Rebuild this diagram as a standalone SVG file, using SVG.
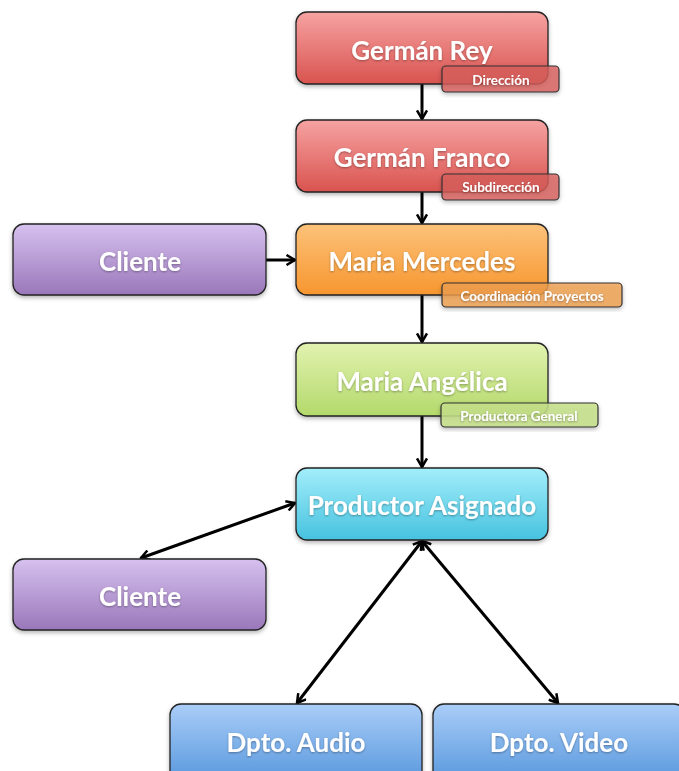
<svg xmlns="http://www.w3.org/2000/svg" width="679" height="771" viewBox="0 0 679 771">
<defs>
<linearGradient id="gRed" x1="0" y1="0" x2="0" y2="1"><stop offset="0" stop-color="#f6a3a2"/><stop offset="1" stop-color="#d9534f"/></linearGradient>
<linearGradient id="gOrange" x1="0" y1="0" x2="0" y2="1"><stop offset="0" stop-color="#fcc27a"/><stop offset="1" stop-color="#f7962f"/></linearGradient>
<linearGradient id="gGreen" x1="0" y1="0" x2="0" y2="1"><stop offset="0" stop-color="#e2f2b0"/><stop offset="1" stop-color="#b3d96b"/></linearGradient>
<linearGradient id="gCyan" x1="0" y1="0" x2="0" y2="1"><stop offset="0" stop-color="#a3eefb"/><stop offset="1" stop-color="#46c2df"/></linearGradient>
<linearGradient id="gPurple" x1="0" y1="0" x2="0" y2="1"><stop offset="0" stop-color="#d6c1ef"/><stop offset="1" stop-color="#9a77ba"/></linearGradient>
<linearGradient id="gBlue" x1="0" y1="0" x2="0" y2="1"><stop offset="0" stop-color="#aacdf8"/><stop offset="1" stop-color="#5596dc"/></linearGradient>
<filter id="sh" x="-10%" y="-10%" width="120%" height="130%"><feDropShadow dx="0" dy="2" stdDeviation="2" flood-color="#000" flood-opacity="0.3"/></filter>
<filter id="ts" x="-5%" y="-20%" width="110%" height="150%"><feDropShadow dx="0" dy="1" stdDeviation="0.8" flood-color="#000" flood-opacity="0.35"/></filter>
<marker id="ah" viewBox="0 0 12 12" refX="10.5" refY="6" markerWidth="12" markerHeight="12" markerUnits="userSpaceOnUse" orient="auto-start-reverse">
<path d="M2,1 L10.5,6 L2,11" fill="none" stroke="#000" stroke-width="2.5"/>
</marker>
</defs>
<style>
.box{stroke:#222;stroke-width:1.3;filter:url(#sh)}
.tag{stroke:#333;stroke-width:1.2;filter:url(#sh)}
.t{font-family:Lato,"Open Sans","Liberation Sans",sans-serif;font-weight:bold;fill:#fff;text-anchor:middle;filter:url(#ts)}
.big{font-size:26px}
.small{font-size:13.5px}
.c{stroke:#000;stroke-width:3;fill:none}
</style>
<g id="connectors">
<line class="c" x1="422" y1="84" x2="422" y2="119" marker-end="url(#ah)"/>
<line class="c" x1="422" y1="192" x2="422" y2="223" marker-end="url(#ah)"/>
<line class="c" x1="266" y1="260" x2="295" y2="260" marker-end="url(#ah)"/>
<line class="c" x1="422" y1="295" x2="422" y2="342" marker-end="url(#ah)"/>
<line class="c" x1="422" y1="416" x2="422" y2="467" marker-end="url(#ah)"/>
<line class="c" x1="141" y1="558" x2="295" y2="503" marker-start="url(#ah)" marker-end="url(#ah)"/>
<line class="c" x1="422" y1="541" x2="297" y2="703" marker-start="url(#ah)" marker-end="url(#ah)"/>
<line class="c" x1="422" y1="541" x2="558" y2="703" marker-start="url(#ah)" marker-end="url(#ah)"/>
</g>
<g id="n-rey">
<rect class="box" x="296" y="12" width="252" height="72" rx="11" fill="url(#gRed)"/>
<text class="t big" x="422" y="60">Germán Rey</text>
<rect class="tag" x="442" y="66" width="117" height="26" rx="4" fill="#d9605c" fill-opacity="0.8"/>
<text class="t small" x="501" y="85">Dirección</text>
</g>
<g id="n-franco">
<rect class="box" x="296" y="120" width="252" height="72" rx="11" fill="url(#gRed)"/>
<text class="t big" x="422" y="167">Germán Franco</text>
<rect class="tag" x="442" y="174" width="117" height="26" rx="4" fill="#d9605c" fill-opacity="0.8"/>
<text class="t small" x="501" y="192">Subdirección</text>
</g>
<g id="n-mercedes">
<rect class="box" x="296" y="224" width="252" height="71" rx="11" fill="url(#gOrange)"/>
<text class="t big" x="422" y="271">Maria Mercedes</text>
<rect class="tag" x="442" y="283" width="180" height="24" rx="4" fill="#f0a050" fill-opacity="0.8"/>
<text class="t small" x="532" y="301">Coordinación Proyectos</text>
</g>
<g id="n-cliente1">
<rect class="box" x="13" y="224" width="253" height="71" rx="11" fill="url(#gPurple)"/>
<text class="t big" x="140" y="271">Cliente</text>
</g>
<g id="n-angelica">
<rect class="box" x="296" y="343" width="252" height="73" rx="11" fill="url(#gGreen)"/>
<text class="t big" x="422" y="391">Maria Angélica</text>
<rect class="tag" x="441" y="403" width="157" height="24" rx="4" fill="#c5e08a" fill-opacity="0.85"/>
<text class="t small" x="519" y="421">Productora General</text>
</g>
<g id="n-productor">
<rect class="box" x="296" y="468" width="252" height="72" rx="11" fill="url(#gCyan)"/>
<text class="t big" x="422" y="515">Productor Asignado</text>
</g>
<g id="n-cliente2">
<rect class="box" x="13" y="559" width="253" height="71" rx="11" fill="url(#gPurple)"/>
<text class="t big" x="140" y="606">Cliente</text>
</g>
<g id="n-audio">
<rect class="box" x="170" y="704" width="252" height="80" rx="11" fill="url(#gBlue)"/>
<text class="t big" x="296" y="752">Dpto. Audio</text>
</g>
<g id="n-video">
<rect class="box" x="433" y="704" width="252" height="80" rx="11" fill="url(#gBlue)"/>
<text class="t big" x="559" y="752">Dpto. Video</text>
</g>
</svg>
